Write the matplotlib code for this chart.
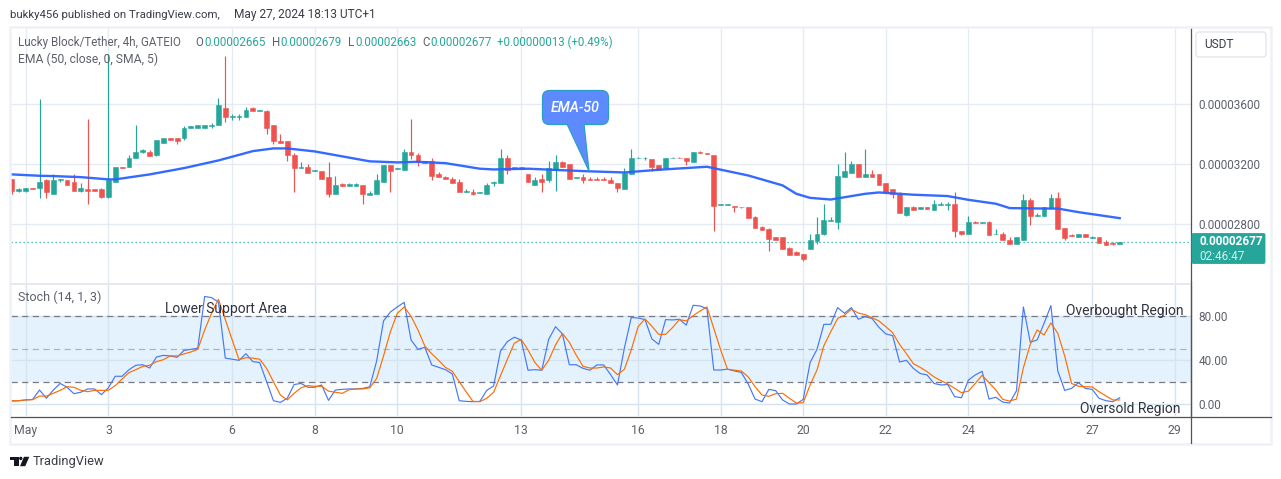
import matplotlib
matplotlib.use("Agg")
import matplotlib.pyplot as plt
from matplotlib.patches import FancyBboxPatch, Polygon, Rectangle, Circle

# prices are in units of 0.00000001
opens = [3100, 3020, 3020, 3040, 3040, 3090, 3000, 3090, 3090, 3080,
         3020, 3030, 3030, 3030, 2980, 3080, 3180, 3180, 3240, 3280,
         3280, 3260, 3340, 3370, 3370, 3370, 3440, 3440, 3440, 3450,
         3460, 3570, 3510, 3510, 3510, 3570, 3550, 3550, 3460, 3350,
         3350, 3260, 3170, 3180, 3150, 3150, 3110, 3000, 3065, 3055,
         3055, 3060, 2995, 3000, 3080, 3190, 3165, 3160, 3280, 3255,
         3205, 3215, 3135, 3115, 3100, 3080, 3010, 3015, 3005, 3000,
         3070, 3070, 3235, 3165, 3180, 3135, 3060, 3100, 3090, 3160,
         3210, 3195, 3105, 3110, 3100, 3100, 3100, 3095, 3070, 3035,
         3130, 3235, 3235, 3230, 3190, 3175, 3235, 3240, 3235, 3210,
         3280, 3270, 3260, 2925, 2925, 2920, 2915, 2910, 2845, 2780,
         2765, 2715, 2710, 2640, 2610, 2600, 2630, 2685, 2730, 2820,
         2810, 3110, 3140, 3195, 3110, 3135, 3130, 3070, 3030, 3000,
         2860, 2910, 2900, 2910, 2895, 2925, 2925, 2930, 2750, 2735,
         2810, 2805, 2810, 2730, 2735, 2695, 2665, 2695, 2960, 2855,
         2855, 2905, 2970, 2770, 2725, 2715, 2730, 2705, 2715, 2680, 2672, 2665]
highs = [3100, 3040, 3040, 3040, 3630, 3100, 3130, 3100, 3090, 3130,
         3070, 3500, 3030, 3040, 3930, 3180, 3180, 3260, 3460, 3300,
         3290, 3360, 3370, 3370, 3370, 3450, 3450, 3460, 3460, 3470,
         3640, 3920, 3530, 3530, 3580, 3580, 3560, 3560, 3460, 3400,
         3350, 3270, 3210, 3200, 3160, 3150, 3210, 3120, 3075, 3075,
         3075, 3060, 3020, 3130, 3190, 3190, 3175, 3300, 3500, 3270,
         3220, 3240, 3145, 3120, 3110, 3100, 3030, 3030, 3010, 3075,
         3085, 3300, 3255, 3180, 3180, 3135, 3115, 3130, 3215, 3255,
         3220, 3195, 3115, 3135, 3110, 3110, 3110, 3110, 3070, 3175,
         3300, 3245, 3245, 3230, 3190, 3240, 3245, 3245, 3235, 3275,
         3285, 3270, 3260, 2930, 2930, 2920, 2915, 2910, 2850, 2785,
         2770, 2715, 2715, 2645, 2620, 2600, 2735, 2845, 2930, 2845,
         3200, 3280, 3215, 3200, 3295, 3160, 3135, 3075, 3030, 3010,
         2915, 2920, 2910, 2910, 2960, 2945, 2945, 3010, 2755, 2855,
         2820, 2810, 2820, 2765, 2745, 2715, 2715, 3000, 2970, 2870,
         2915, 3000, 3010, 2770, 2735, 2735, 2735, 2720, 2715, 2690, 2678, 2679]
lows = [3000, 3010, 3010, 3030, 2970, 2970, 3000, 3080, 3060, 3020,
        3010, 2930, 3020, 2970, 2970, 3080, 3170, 3180, 3240, 3270,
        3250, 3250, 3340, 3360, 3330, 3360, 3440, 3440, 3440, 3440,
        3460, 3480, 3490, 3490, 3510, 3550, 3550, 3400, 3330, 3340,
        3220, 3010, 3170, 3140, 3150, 3100, 2980, 3000, 3055, 3055,
        3055, 2930, 2995, 3000, 3080, 3010, 3165, 3160, 3230, 3185,
        3205, 3090, 3110, 3100, 3075, 3010, 3010, 2995, 3005, 3000,
        3050, 3070, 3135, 3165, 3165, 3080, 3060, 3010, 3080, 3020,
        3180, 3100, 3105, 3070, 3090, 3090, 3090, 3070, 3015, 3035,
        3130, 3235, 3225, 3155, 3160, 3170, 3235, 3235, 3190, 3210,
        3270, 3265, 2755, 2925, 2925, 2880, 2905, 2840, 2770, 2760,
        2620, 2695, 2635, 2595, 2595, 2550, 2630, 2665, 2725, 2820,
        2765, 3110, 3140, 3110, 3110, 3115, 3060, 3015, 2970, 2875,
        2855, 2895, 2900, 2900, 2895, 2925, 2895, 2715, 2725, 2735,
        2805, 2805, 2725, 2730, 2690, 2665, 2665, 2695, 2795, 2855,
        2855, 2905, 2765, 2690, 2720, 2715, 2710, 2705, 2675, 2660, 2660, 2663]
closes = [3020, 3030, 3040, 3030, 3080, 3010, 3090, 3100, 3060, 3020,
          3040, 3020, 3020, 2980, 3090, 3180, 3170, 3240, 3280, 3290,
          3250, 3360, 3370, 3360, 3350, 3440, 3450, 3460, 3460, 3460,
          3590, 3510, 3520, 3520, 3560, 3550, 3560, 3440, 3350, 3340,
          3260, 3170, 3180, 3140, 3160, 3100, 3000, 3060, 3055, 3065,
          3065, 3000, 3005, 3090, 3190, 3155, 3175, 3280, 3260, 3210,
          3220, 3120, 3110, 3100, 3075, 3010, 3020, 3000, 3010, 3060,
          3080, 3235, 3160, 3180, 3165, 3080, 3090, 3080, 3175, 3210,
          3180, 3100, 3110, 3095, 3090, 3090, 3090, 3070, 3040, 3140,
          3235, 3240, 3240, 3180, 3160, 3235, 3240, 3235, 3215, 3275,
          3270, 3265, 2920, 2930, 2930, 2910, 2910, 2840, 2770, 2760,
          2700, 2695, 2635, 2595, 2595, 2565, 2695, 2735, 2825, 2825,
          3120, 3155, 3195, 3110, 3135, 3115, 3060, 3015, 3000, 2875,
          2915, 2895, 2910, 2900, 2935, 2930, 2935, 2750, 2735, 2810,
          2805, 2810, 2725, 2735, 2690, 2665, 2710, 2960, 2850, 2860,
          2915, 2970, 2765, 2705, 2720, 2735, 2710, 2710, 2675, 2660, 2668, 2677]

ema_idx = [0, 4, 6, 10, 14, 15, 20, 25, 30, 35, 38, 40, 44, 48, 52, 56, 59, 63,
           68, 70, 75, 83, 89, 94, 101, 107, 112, 114, 116, 119, 124, 126, 131,
           136, 139, 143, 145, 150, 152, 155, 161]
ema_val = [3129, 3120, 3118, 3111, 3096, 3096, 3129, 3171, 3222, 3284, 3302, 3302,
           3282, 3249, 3216, 3209, 3213, 3204, 3167, 3162, 3167, 3151, 3142, 3160,
           3180, 3122, 3056, 3000, 2973, 2962, 3000, 3009, 2994, 2985, 2960, 2934,
           2905, 2902, 2902, 2878, 2838]

stoch_k = [3, 3.3, 4, 4.5, 13, 5.5, 13, 19, 15.5, 9.7,
           11, 14, 14, 8.8, 15, 25.5, 25.5, 31.5, 35.5, 36,
           33, 43, 44.5, 44, 42.7, 49, 50, 51, 98, 97,
           93, 42, 41, 40, 46, 38.8, 38, 20.6, 3.3, 1.8,
           5.5, 18, 19, 15.5, 15.5, 17.6, 3.6, 13, 13.6, 14,
           14, 14.5, 16, 39.4, 75.8, 84, 88.5, 92.7, 58.5, 50,
           51.8, 35.8, 33.6, 31.5, 27.6, 3.3, 2.7, 2.4, 2.7, 12.7,
           16.7, 48.5, 57, 61, 58.5, 31, 31.5, 31, 59, 70.6,
           64, 36, 36, 32.7, 31, 35.8, 35.8, 27, 17.6, 51,
           78.8, 78.5, 77, 59.4, 54.5, 77, 76.7, 77.3, 72, 90,
           89.4, 87, 31.2, 31.2, 32, 30.3, 29, 18.5, 4.8, 2.4,
           13.6, 12.4, 4, 0.3, 0.3, 4.5, 38, 50, 72.7, 72.7,
           87.9, 82.7, 87.9, 77.3, 79.7, 78, 70, 64, 62.4, 38.5,
           40, 32.7, 28, 26.7, 19, 17.6, 18, 7, 6, 22,
           26.7, 30, 4.8, 6.4, 2, 1.2, 12.4, 88.5, 56.4, 58.5,
           73.6, 89.7, 30.3, 12.7, 14.5, 19.7, 14.5, 13.6, 5.5, 3.3, 2.4, 6]
stoch_d = [3.3, 3.3, 4, 4.2, 7.5, 7.5, 10, 12.7, 16, 15.5,
           12.7, 11.5, 12.7, 12.7, 12.7, 17, 23, 28.8, 31.5, 34.5,
           35.5, 38.8, 40.6, 44, 44, 45.8, 47.6, 50, 67.6, 82.7,
           95.5, 77, 58.5, 40.6, 42.4, 42, 41, 32.7, 20.6, 8.5,
           4, 10, 15, 17, 16.4, 16.4, 12, 11, 10, 13.3,
           14, 14, 15, 23.6, 44, 66, 82.7, 88.5, 80, 67.6,
           53, 46, 40, 33.6, 30, 20.6, 11.5, 2.7, 2.4, 5.5,
           11, 26, 41, 55.5, 59, 49.4, 38, 31, 40, 54,
           64.5, 56.4, 44.8, 34.5, 33, 33, 34, 33, 27, 31.8,
           49.4, 70.6, 77.6, 71, 63.6, 63.6, 69.7, 77, 75.8, 80.6,
           84.8, 88.5, 69, 49.4, 31.8, 31, 30.3, 25, 16, 8.5,
           7.3, 9.7, 10, 5.5, 1.2, 1.5, 17.6, 31.2, 53.3, 66,
           78, 81, 86.4, 83, 81.5, 78.8, 75.8, 70.6, 65, 54.5,
           46, 37, 33.6, 29.7, 25, 21.5, 18.5, 14.5, 10.6, 12,
           19, 26.4, 19.7, 13, 4.5, 3, 4.8, 33.3, 54.5, 67.6,
           63, 74, 64.5, 44, 19, 16.4, 16, 15.8, 11.5, 7.6, 4, 4]

date_idx = [2, 14, 32, 44, 56, 74, 91, 103, 115, 127, 139, 157, 169]
date_labels = ["May", "3", "6", "8", "10", "13", "16", "18", "20", "22", "24", "27", "29"]
price_ticks = [3600, 3200, 2800]
price_labels = ["0.00003600", "0.00003200", "0.00002800"]
stoch_ticks = [0, 40, 80]
stoch_labels = ["0.00", "40.00", "80.00"]
last_price = 2677

TEAL = "#26a69a"
RED = "#ef5350"
BLUE = "#2962ff"
GRID = "#e4ebf2"
TXT = "#5d606b"
plt.rcParams["font.family"] = "Roboto"

W, H = 1281, 479
fig = plt.figure(figsize=(W / 100, H / 100), dpi=100, facecolor="white")


def add_ax(x0, y0, x1, y1, **kw):
    # pixel box, y measured from the top
    return fig.add_axes([x0 / W, 1 - y1 / H, (x1 - x0) / W, (y1 - y0) / H], **kw)


ax = add_ax(10.5, 28, 1191, 282.5)
ax2 = add_ax(10.5, 284.5, 1191, 416)
XLIM = (-0.22, 171.36)

# candles
x = list(range(len(opens)))
colors = [TEAL if c >= o else RED for o, c in zip(opens, closes)]
ax.vlines(x, lows, highs, colors=colors, linewidth=0.85, zorder=3)
ax.bar(x, [abs(c - o) for o, c in zip(opens, closes)], bottom=[min(o, c) for o, c in zip(opens, closes)],
       width=0.7, color=colors, edgecolor=colors, linewidth=0.4, zorder=4)
ax.plot(ema_idx, ema_val, color=BLUE, linewidth=1.7, alpha=0.95, zorder=5)
ax.axhline(last_price, color=TEAL, linewidth=0.9, linestyle=(0, (1, 2.2)), zorder=2)

ax.set_xlim(*XLIM)
ax.set_ylim(2410, 4103)
ax.set_xticks(date_idx)
ax.set_yticks(price_ticks)
ax.set_yticklabels(price_labels)
ax.grid(True, color=GRID, linewidth=1.0, zorder=0)
ax.set_axisbelow(True)
ax.tick_params(axis="x", length=0, labelbottom=False)
ax.yaxis.tick_right()
ax.tick_params(axis="y", length=0, pad=5.5, labelsize=8.5, labelcolor=TXT)

# stochastic pane
ax2.axhspan(20, 80, color="#e4f2fd", linewidth=0, zorder=0)
ax2.plot(x, stoch_k, color="#4578f5", linewidth=0.85, zorder=4)
ax2.plot(x, stoch_d, color="#ff6d00", linewidth=0.85, zorder=5)
ax2.axhline(80, color="#787b86", linewidth=0.9, linestyle=(0, (5, 3.5)), zorder=3)
ax2.axhline(50, color="#b0b3bb", linewidth=0.9, linestyle=(0, (5, 3.5)), zorder=3)
ax2.axhline(20, color="#787b86", linewidth=0.9, linestyle=(0, (5, 3.5)), zorder=3)
ax2.set_xlim(*XLIM)
ax2.set_ylim(-10.6, 108.9)
ax2.set_xticks(date_idx)
ax2.set_xticklabels(date_labels)
ax2.set_yticks(stoch_ticks)
ax2.set_yticklabels(stoch_labels)
ax2.grid(True, color="#d6e4f0", linewidth=1.0, zorder=1)
ax2.set_axisbelow(True)
ax2.yaxis.tick_right()
ax2.tick_params(axis="x", length=0, pad=6, labelsize=8.8, labelcolor=TXT)
ax2.tick_params(axis="y", length=0, pad=5.5, labelsize=8.5, labelcolor=TXT)

for a in (ax, ax2):
    a.spines["top"].set_visible(False)
    a.spines["left"].set_visible(False)
    a.spines["bottom"].set_visible(False)
    a.spines["right"].set_color("#50535e")
    a.spines["right"].set_linewidth(0.9)

# overlay in pixel coords for the TradingView furniture
ov = fig.add_axes([0, 0, 1, 1], facecolor="none", zorder=10)
ov.set_xlim(0, W)
ov.set_ylim(H, 0)
ov.axis("off")

# chart frame
ov.add_patch(Rectangle((10, 27), 1261, 416.5, fill=False, edgecolor="#eef1f7", linewidth=1.8))
ov.plot([10.5, 1191], [283.5, 283.5], color="#e6e8ee", linewidth=1.4)
ov.plot([10.5, 1271], [416.5, 416.5], color="#50535e", linewidth=0.9)
ov.plot([1191, 1191], [282, 443], color="#50535e", linewidth=0.9)

ov.text(10, 14.5, "bukky456 published on TradingView.com,", fontsize=8.2, color="#3a3d47", va="center")
ov.text(234, 14.5, "May 27, 2024 18:13 UTC+1", fontsize=8.6, color="#3a3d47", va="center")

ov.text(18, 42, "Lucky Block/Tether, 4h, GATEIO", fontsize=8.4, color=TXT, va="center")
for px, s, c in [(195, "O", TXT), (204, "0.00002665", TEAL), (272, "H", TXT), (280, "0.00002679", TEAL),
                 (348, "L", TXT), (355, "0.00002663", TEAL), (422, "C", TXT), (430, "0.00002677", TEAL),
                 (497, "+0.00000013 (+0.49%)", TEAL)]:
    ov.text(px, 42, s, fontsize=8.3, color=c, va="center")
ov.text(18, 59, "EMA (50, close, 0, SMA, 5)", fontsize=8.7, color=TXT, va="center")
ov.text(18, 297.5, "Stoch (14, 1, 3)", fontsize=9.0, color=TXT, va="center")

ov.text(165, 309.5, "Lower Support Area", fontsize=10, color="#2f3240", va="center")
ov.text(1066, 310.5, "Overbought Region", fontsize=10, color="#2f3240", va="center")
ov.text(1080, 408.5, "Oversold Region", fontsize=10, color="#2f3240", va="center")

# EMA-50 callout
ov.add_patch(Polygon([(567, 124), (589, 171), (584, 124)], closed=True, facecolor="#5d8bff",
                     edgecolor="#2a9fc4", linewidth=0.9, zorder=3))
ov.add_patch(FancyBboxPatch((547, 95), 57, 25, boxstyle="round,pad=4.5,rounding_size=7", facecolor="#5d8bff",
                            edgecolor="#2a9fc4", linewidth=0.9, zorder=3))
ov.add_patch(Rectangle((568, 120), 16, 5.5, facecolor="#5d8bff", edgecolor="none", zorder=4))
ov.text(575.5, 107.5, "EMA-50", fontsize=10.2, style="italic", weight="medium", color="white",
        ha="center", va="center", zorder=5)

# USDT button
ov.add_patch(FancyBboxPatch((1198, 34), 66, 21, boxstyle="round,pad=2,rounding_size=3", facecolor="white",
                            edgecolor="#e0e3eb", linewidth=0.9))
ov.text(1204, 44.5, "USDT", fontsize=8.6, color="#3a3d47", va="center")

# last price tag
ov.add_patch(FancyBboxPatch((1192, 233.5), 73, 30, boxstyle="round,pad=0,rounding_size=1.5", facecolor=TEAL,
                            edgecolor=TEAL, linewidth=0.6))
ov.text(1199, 241.5, "0.00002677", fontsize=8.5, color="white", weight="bold", va="center")
ov.text(1199, 256, "02:46:47", fontsize=8.5, color="#d4f0ec", va="center")

# TradingView logo
ov.add_patch(Rectangle((10, 456.8), 8.5, 2.9, color="#131722", linewidth=0))
ov.add_patch(Rectangle((14.2, 456.8), 4.3, 9.4, color="#131722", linewidth=0))
ov.add_patch(Circle((20.8, 458.4), 1.7, color="#131722", linewidth=0))
ov.add_patch(Polygon([(24, 456.8), (29.3, 456.8), (25.2, 466.2), (20, 466.2)], closed=True, color="#131722", linewidth=0))
ov.text(33, 461.5, "TradingView", fontsize=9.3, color="#3a3d47", va="center")

fig.savefig("out.png", dpi=100)
